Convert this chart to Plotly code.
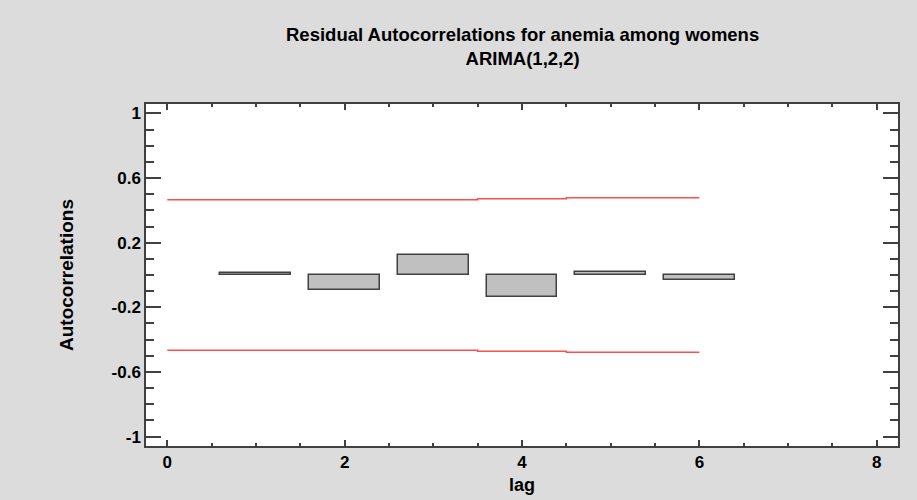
import plotly.graph_objects as go

lags = [1, 2, 3, 4, 5, 6]
acf = [0.015, -0.09, 0.125, -0.133, 0.02, -0.032]
limits = [0.466, 0.466, 0.466, 0.472, 0.478, 0.478]
limit_x = [0, 1.5, 2.5, 3.5, 4.5, 5.5, 6]
y_ticks = [1, 0.6, 0.2, -0.2, -0.6, -1]
x_ticks = [0, 2, 4, 6, 8]
title_lines = ["Residual Autocorrelations for anemia among womens", "ARIMA(1,2,2)"]

W, H = 917, 500
ML, MR, MT, MB = 146, 19, 104, 54
PH = H - MT - MB

fig = go.Figure()
fig.add_trace(go.Bar(x=lags, y=acf, width=0.8,
                     marker=dict(color="#C0C0C0", line=dict(color="#404040", width=1.5)),
                     showlegend=False))
ly = limits + [limits[-1]]
fig.add_trace(go.Scatter(x=limit_x, y=ly, mode="lines",
                         line=dict(color="#FF4D4D", width=1.5, shape="hv"), showlegend=False))
fig.add_trace(go.Scatter(x=limit_x, y=[-v for v in ly], mode="lines",
                         line=dict(color="#FF4D4D", width=1.5, shape="hv"), showlegend=False))

font = "Liberation Sans, Arial, sans-serif"
fig.update_layout(
    width=W, height=H,
    margin=dict(l=ML, r=MR, t=MT, b=MB),
    paper_bgcolor="#DCDCDC", plot_bgcolor="white",
    font=dict(family=font, color="black", size=17),
    bargap=0,
)
fig.add_annotation(text="<b>" + "<br>".join(title_lines) + "</b>", xref="paper", yref="paper", x=0.5,
                   y=1 + (MT - 46) / PH, xanchor="center", yanchor="middle",
                   showarrow=False, font=dict(size=18.5, family=font, color="black"))

fig.update_xaxes(range=[-0.24, 8.24], tickvals=x_ticks, ticktext=[f"<b>{v}</b>" for v in x_ticks],
                 ticks="inside", ticklen=6, tickwidth=1.5, tickcolor="#404040",
                 minor=dict(dtick=0.5, tick0=0, ticks="inside", ticklen=3, tickwidth=1.5, tickcolor="#404040"),
                 showline=True, linecolor="#404040", linewidth=1.5, mirror="ticks",
                 showgrid=False, zeroline=False, tickfont=dict(size=17), automargin=False,
                 title=dict(text="<b>lag</b>", font=dict(size=18), standoff=7))
fig.update_yaxes(range=[-1.058, 1.058], tickvals=y_ticks, ticktext=[f"<b>{v}</b>" for v in y_ticks],
                 ticks="inside", ticklen=15, tickwidth=1.5, tickcolor="#404040",
                 minor=dict(dtick=0.1, tick0=0, ticks="inside", ticklen=8, tickwidth=1.5, tickcolor="#404040"),
                 showline=True, linecolor="#404040", linewidth=1.5, mirror="ticks",
                 showgrid=False, zeroline=False, tickfont=dict(size=17), automargin=False,
                 title=dict(text="<b>Autocorrelations</b>", font=dict(size=19), standoff=33))

fig.write_html("out.html", config={"displayModeBar": False},
               post_script="document.body.style.margin='0';document.body.style.background='#DCDCDC';")
